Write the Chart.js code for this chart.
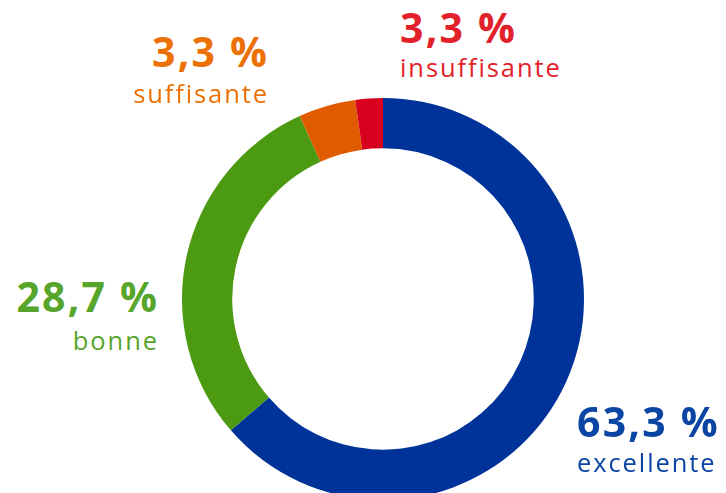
<!DOCTYPE html>
<html lang="fr">
<head>
<meta charset="utf-8">
<script src="https://cdn.jsdelivr.net/npm/chart.js@4/dist/chart.umd.min.js"></script>
<style>
  html, body { margin: 0; padding: 0; width: 726px; height: 493px; overflow: hidden; background: #fff; }
  #wrap { position: absolute; left: 182px; top: 97.5px; width: 402px; height: 402px; }
  .lbl { position: absolute; font-family: "Open Sans", sans-serif; white-space: nowrap; line-height: 1; }
</style>
</head>
<body>
<div id="wrap"><canvas id="c"></canvas></div>
<div id="labels"></div>
<script>
// Data (slice sizes; label texts as printed)
const categories = ["excellente", "bonne", "suffisante", "insuffisante"];
const sliceValues = [63.6, 29.5, 4.6, 2.2];
const percentLabels = ["63,3 %", "28,7 %", "3,3 %", "3,3 %"];

// Styles
const sliceColors = ["#003399", "#4b9a12", "#e05a00", "#d8001c"];
const textColors = ["#0b45a3", "#57a52b", "#ec7004", "#e2222b"];
const pctFont = { size: 41, weight: 700, spacing: 2.2 };
const nameFont = { size: 25.5, weight: 400, spacing: 1.9 };
// label anchors: x edge, baselines, alignment
const labelPos = [
  { x: 577, pctBase: 437, nameBase: 472.5, align: "left" },
  { x: 157, pctBase: 312.5, nameBase: 351, align: "right" },
  { x: 267, pctBase: 67.5, nameBase: 103.5, align: "right" },
  { x: 400, pctBase: 43.5, nameBase: 77.5, align: "left" }
];

new Chart(document.getElementById("c"), {
  type: "doughnut",
  data: {
    labels: categories,
    datasets: [{
      data: sliceValues,
      backgroundColor: sliceColors,
      borderWidth: 0,
      hoverOffset: 0
    }]
  },
  options: {
    responsive: true,
    maintainAspectRatio: false,
    animation: false,
    cutout: "75%",
    rotation: 0,
    layout: { padding: 0 },
    plugins: { legend: { display: false }, tooltip: { enabled: false } }
  }
});

const host = document.getElementById("labels");
function addText(text, x, baseline, align, font, color) {
  const d = document.createElement("div");
  d.className = "lbl";
  d.textContent = text;
  d.style.fontSize = font.size + "px";
  d.style.fontWeight = font.weight;
  d.style.letterSpacing = font.spacing + "px";
  d.style.color = color;
  // Open Sans: baseline sits 0.888em below the top of a line-height:1 box
  d.style.top = (baseline - 0.888 * font.size) + "px";
  if (align === "left") {
    d.style.left = x + "px";
  } else {
    d.style.right = (726 - x - font.spacing) + "px";
    d.style.textAlign = "right";
  }
  host.appendChild(d);
}
categories.forEach((cat, i) => {
  const p = labelPos[i];
  addText(percentLabels[i], p.x, p.pctBase, p.align, pctFont, textColors[i]);
  addText(cat, p.x, p.nameBase, p.align, nameFont, textColors[i]);
});
</script>
</body>
</html>
